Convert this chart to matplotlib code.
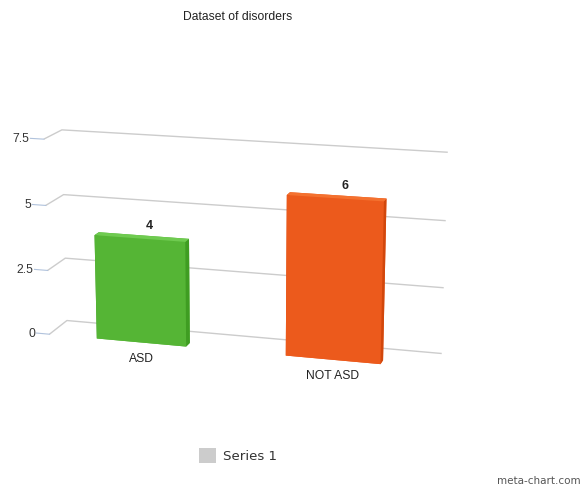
import matplotlib
matplotlib.use("Agg")
import matplotlib.pyplot as plt
import numpy as np

# Chart data
title = "Dataset of disorders"
categories = ["ASD", "NOT ASD"]
values = [4, 6]
series_name = "Series 1"
value_ticks = [0, 2.5, 5, 7.5]
value_tick_labels = ["0", "2.5", "5", "7.5"]

# Face colours for each column: (top, front, side)
bar_colors = [("#6fcb50", "#55b535", "#3f9d22"),
              ("#f4712f", "#ec5a1c", "#d2470c")]

plt.rcParams["grid.color"] = "#cccccc"
plt.rcParams["grid.linewidth"] = 1.0
plt.rcParams["font.family"] = ["Liberation Sans", "DejaVu Sans"]

fig = plt.figure(figsize=(5.83, 4.86), dpi=100)
fig.patch.set_facecolor("white")

ax = fig.add_axes([-0.069, 0.052, 0.95, 0.86], projection="3d")
ax.set_proj_type("persp", focal_length=0.8)
ax.view_init(elev=15, azim=-74)
ax.set_box_aspect((390, 48, 200), zoom=1.05)
ax.patch.set_alpha(0)

bar_width = 0.48
bar_depth = 1.0
x = np.arange(len(categories))
for i, v in enumerate(values):
    top, front, side = bar_colors[i]
    # face order used by bar3d: -z, +z, -y, +y, -x, +x
    faces = [front, top, front, front, side, side]
    ax.bar3d(x[i] - bar_width / 2, 0, 0, bar_width, bar_depth, v,
             color=faces, shade=False, edgecolor="none")
    ax.text(x[i] + 0.04, bar_depth / 2, v + 0.2, str(v), ha="center",
            va="bottom", fontsize=9, fontweight="bold", color="#222222")
    ax.text(x[i], 0, -0.4, categories[i], ha="center", va="top",
            fontsize=8.7, color="#222222")

ax.set_xlim(-0.5, 1.5)
ax.set_ylim(0, 4)
ax.set_zlim(0, 7.5)

for axis in (ax.xaxis, ax.yaxis, ax.zaxis):
    axis.set_pane_color((1, 1, 1, 0))
    axis.pane.set_edgecolor((1, 1, 1, 0))
    axis.line.set_color((1, 1, 1, 0))
    axis.label.set_visible(False)
    axis.offsetText.set_visible(False)

ax.set_xticks([])
ax.set_yticks([])
ax.set_zticks(value_ticks)
ax.set_zticklabels(value_tick_labels)
ax.zaxis.set_ticks_position("lower")
# value-axis ticks point sideways (along x) instead of toward the viewer
ax.zaxis._get_tickdir = lambda *args, **kwargs: 0
ax.tick_params(axis="z", color="#b0c2dc", labelcolor="#333333",
               labelsize=8.7, pad=-2, width=1.0)
ax.zaxis._axinfo["tick"]["inward_factor"] = 0.0
ax.zaxis._axinfo["tick"]["outward_factor"] = 0.45
for tick in ax.zaxis.get_major_ticks():
    tick.label1.set_horizontalalignment("right")
    tick.label1.set_verticalalignment("center")

fig.text(238 / 583, 1 - 17 / 486, title, ha="center", va="center",
         fontsize=8.7, color="#222222")

# Legend
fig.patches.append(plt.Rectangle((199 / 583, 1 - 463 / 486), 17 / 583, 15 / 486,
                                 transform=fig.transFigure, facecolor="#cccccc",
                                 edgecolor="none"))
fig.text(223 / 583, 1 - 456 / 486, series_name, ha="left", va="center",
         fontsize=9.6, color="#333333", family="DejaVu Sans")
fig.text(497 / 583, 1 - 481 / 486, "meta-chart.com", ha="left", va="center",
         fontsize=7.5, color="#555555", family="DejaVu Sans")

fig.savefig("out.png", dpi=100, facecolor="white")
